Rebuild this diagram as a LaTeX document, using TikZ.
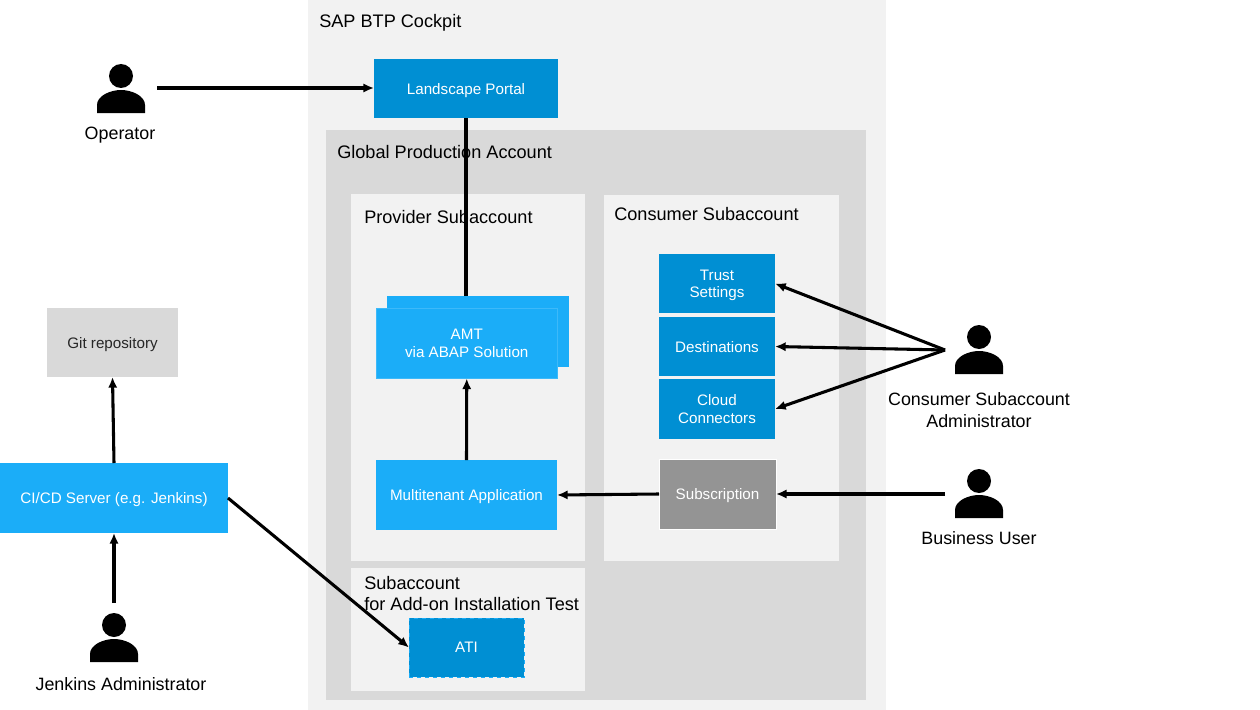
\documentclass[tikz,border=0pt]{standalone}
\usepackage{fontspec}
\setmainfont{Liberation Sans}
\usetikzlibrary{arrows.meta}
\definecolor{cockpit}{HTML}{F2F2F2}
\definecolor{globalgray}{HTML}{D9D9D9}
\definecolor{deepblue}{HTML}{008FD3}
\definecolor{lightblue}{HTML}{1BADF8}
\definecolor{midgray}{HTML}{949494}
\tikzset{
  x=0.75pt,y=-0.75pt,
  sz/.style 2 args={minimum width=#1*0.75pt,minimum height=#2*0.75pt},
  area/.style={draw=none,inner sep=0pt,outer sep=0pt,anchor=north west},
  box/.style={inner sep=0pt,outer sep=0pt,text=white,align=center,anchor=north west,text depth=0pt,
    font=\fontsize{11.4pt}{12.9pt}\selectfont},
  darkbox/.style={box,fill=deepblue},
  lightbox/.style={box,fill=lightblue},
  title/.style={anchor=base west,inner sep=0pt,font=\fontsize{13.6pt}{15.8pt}\selectfont,align=left},
  caption/.style={anchor=center,inner sep=0pt,text depth=0pt,font=\fontsize{13.4pt}{15.8pt}\selectfont,align=center},
  flow/.style={draw=black,line width=2.3pt,-{Latex[length=8pt,width=7pt]}},
  plainline/.style={draw=black,line width=2.3pt},
  head/.style={circle,fill=black,inner sep=0pt,minimum size=18pt},
  pics/person/.style={code={
    \fill[black] (-24,37) -- (-24,29) .. controls (-24,20) and (-11,14) .. (0,14)
      .. controls (11,14) and (24,20) .. (24,29) -- (24,37) -- cycle;
  }}
}
\begin{document}
\begin{tikzpicture}
\useasboundingbox (0,0) rectangle (1260,710);
% areas
\node[area,fill=cockpit,sz={578}{710}] (cockpitarea) at (308,0) {};
\node[area,fill=globalgray,sz={540}{570}] (globalarea) at (326,130) {};
\node[area,fill=cockpit,sz={234}{367}] (providerarea) at (351,194) {};
\node[area,fill=cockpit,sz={235}{366}] (consumerarea) at (604,195) {};
\node[area,fill=cockpit,sz={234}{123}] (testarea) at (351,568) {};
% titles
\node[title] (t1) at (319,28) {SAP BTP Cockpit};
\node[title] (t2) at (337,158) {Global Production Account};
\node[title] (t3) at (364,223) {Provider Subaccount};
\node[title] (t4) at (614,220) {Consumer Subaccount};
\node[title,anchor=north west] (t5) at (364,576) {Subaccount\\for Add-on Installation Test};
% boxes
\node[darkbox,sz={184}{59}] (portal) at (374,59) {Landscape Portal};
\node[lightbox,sz={182}{71}] (amtback) at (387,296) {};
\node[lightbox,draw=lightblue!85!white,line width=0.5pt,sz={181.5}{70.5}] (amt) at (376,308) {AMT\\via ABAP Solution};
\node[lightbox,sz={181}{70}] (multi) at (376,460) {Multitenant Application};
\node[darkbox,sz={116}{59}] (trust) at (659,254) {Trust\\Settings};
\node[darkbox,sz={116}{59}] (dest) at (659,317) {Destinations};
\node[darkbox,sz={116}{60}] (cloud) at (659,379) {Cloud\\Connectors};
\node[box,fill=midgray,draw=white,line width=0.6pt,sz={117}{70}] (subs) at (659,459) {Subscription};
\node[box,fill=globalgray,text=black!85,sz={131}{69}] (git) at (47,308) {Git repository};
\node[lightbox,sz={228}{70}] (ci) at (0,463) {CI/CD Server (e.g. Jenkins)};
\node[darkbox,draw=lightblue,dashed,line width=0.6pt,sz={115}{59}] (ati) at (409,618) {ATI};
% persons
\node[head] (opicon) at (121,76) {};
\pic at (121,76) {person};
\node[caption] (oplabel) at (120,133) {Operator};
\node[head] (conicon) at (979,337) {};
\pic at (979,337) {person};
\node[caption] (conlabel) at (979,410) {Consumer Subaccount\\Administrator};
\node[head] (busicon) at (979,481) {};
\pic at (979,481) {person};
\node[caption] (buslabel) at (979,538) {Business User};
\node[head] (jenicon) at (114,625) {};
\pic at (114,625) {person};
\node[caption] (jenlabel) at (121,684) {Jenkins Administrator};
% connector ends
\coordinate (opout) at (157,88);
\coordinate (conout) at (945,350);
\coordinate (busout) at (945,494);
\coordinate (jenout) at (114,603);
% connectors
\draw[flow] (opout) -- (opout -| portal.west);
\draw[plainline] (portal.south) -- (portal.south |- amtback.north);
\draw[flow] (multi.north) -- (amt.south);
\draw[flow] (subs.west) -- (multi.east);
\draw[flow] (busout) -- (subs.east);
\draw[flow] (conout) -- (trust.east);
\draw[flow] (conout) -- (dest.east);
\draw[flow] (conout) -- (cloud.east);
\draw[flow] (ci.north) -- (git.south);
\draw[flow] (jenout) -- (ci.south);
\draw[flow] (ci.east) -- (ati.west);
\end{tikzpicture}
\end{document}
